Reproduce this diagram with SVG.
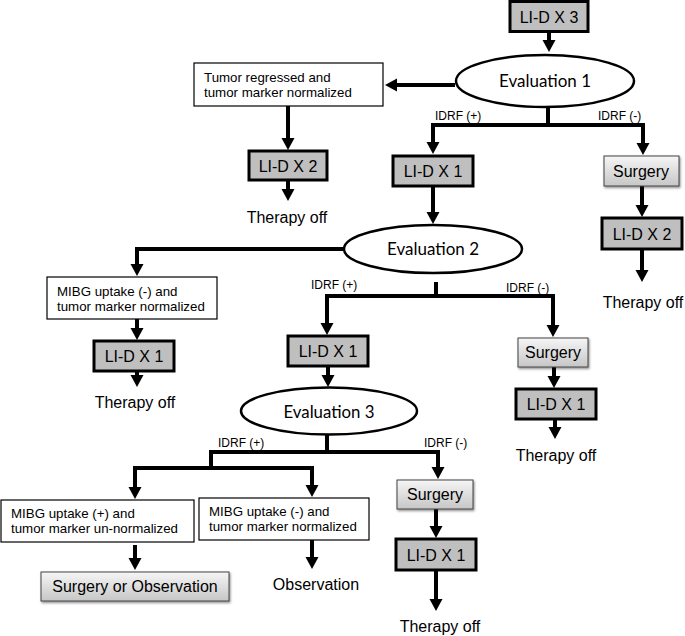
<svg xmlns="http://www.w3.org/2000/svg" width="685" height="636" viewBox="0 0 685 636">
<style>
.lid{fill:#bfbfbf;stroke:#000;stroke-width:3}
.box{fill:#fff;stroke:#000;stroke-width:1.2}
.sur{fill:url(#g);stroke:#444;stroke-width:1;filter:url(#sh)}
.ev{fill:#fff;stroke:#000;stroke-width:2.5}
.t16{font-family:"Liberation Sans",Arial,sans-serif;font-size:16px;fill:#000;text-anchor:middle}
.t13{font-family:"Liberation Sans",Arial,sans-serif;font-size:13.3px;fill:#000}
.t12{font-family:"Liberation Sans",Arial,sans-serif;font-size:12px;fill:#000}
.tev{font-family:Lato,"Open Sans",sans-serif;font-size:17px;fill:#000;text-anchor:middle}
.con path{fill:none;stroke:#000;stroke-width:4;stroke-linejoin:miter}
</style>
<defs>
<linearGradient id="g" x1="0" y1="0" x2="0" y2="1">
<stop offset="0" stop-color="#f6f6f6"/>
<stop offset="1" stop-color="#c6c6c6"/>
</linearGradient>
<filter id="sh" x="-10%" y="-10%" width="130%" height="140%">
<feDropShadow dx="1" dy="1.5" stdDeviation="1" flood-color="#000" flood-opacity="0.45"/>
</filter>
<marker id="ah" markerUnits="userSpaceOnUse" markerWidth="14" markerHeight="14" viewBox="0 -7 14 14" refX="1" refY="0" orient="auto">
<path d="M0,-6.5 L12,0 L0,6.5 z" fill="#000"/>
</marker>
</defs>

<g class="con" id="connectors">
<path d="M549,32 V41" marker-end="url(#ah)"/>
<path d="M455,85 H396" marker-end="url(#ah)"/>
<path d="M288,106 V139" marker-end="url(#ah)"/>
<path d="M288,180 V190" marker-end="url(#ah)"/>
<path d="M548,107 V125 H433 V143" marker-end="url(#ah)"/>
<path d="M548,125 H643 V144" marker-end="url(#ah)"/>
<path d="M433,186 V213" marker-end="url(#ah)"/>
<path d="M642,186 V206" marker-end="url(#ah)"/>
<path d="M642,249 V271" marker-end="url(#ah)"/>
<path d="M344,249 H137 V265" marker-end="url(#ah)"/>
<path d="M137,319 V329" marker-end="url(#ah)"/>
<path d="M137,371 V376" marker-end="url(#ah)"/>
<path d="M436,282 V296 H327 V324" marker-end="url(#ah)"/>
<path d="M436,296 H553 V326" marker-end="url(#ah)"/>
<path d="M328,366 V376" marker-end="url(#ah)"/>
<path d="M554,367 V377" marker-end="url(#ah)"/>
<path d="M555,419 V428" marker-end="url(#ah)"/>
<path d="M327,435 V452 H438 V468" marker-end="url(#ah)"/>
<path d="M327,452 H211 V468 H135 V488" marker-end="url(#ah)"/>
<path d="M211,468 H312 V486" marker-end="url(#ah)"/>
<path d="M135,545 V559" marker-end="url(#ah)"/>
<path d="M312,540 V558" marker-end="url(#ah)"/>
<path d="M436,509 V527" marker-end="url(#ah)"/>
<path d="M436,570 V600" marker-end="url(#ah)"/>
</g>

<g id="lid3"><rect class="lid" x="510" y="1.5" width="78" height="30"/><text class="t16" x="549" y="23">LI-D X 3</text></g>
<g id="eval1"><ellipse class="ev" cx="545" cy="81" rx="89" ry="26"/><text class="tev" x="545" y="87" textLength="92" lengthAdjust="spacingAndGlyphs">Evaluation 1</text></g>
<g id="tumor"><rect class="box" x="194" y="63" width="189" height="43"/><text class="t13" x="204" y="82">Tumor regressed and</text><text class="t13" x="204" y="97">tumor marker normalized</text></g>
<g id="lid2a"><rect class="lid" x="249" y="151" width="78" height="29"/><text class="t16" x="288" y="172">LI-D X 2</text></g>
<g id="off1"><text class="t16" x="287" y="223">Therapy off</text></g>
<g id="idrf1p"><text class="t12" x="435" y="120">IDRF (+)</text></g>
<g id="idrf1m"><text class="t12" x="598" y="120">IDRF (-)</text></g>
<g id="lid1a"><rect class="lid" x="393" y="156" width="80" height="30"/><text class="t16" x="433" y="177">LI-D X 1</text></g>
<g id="surg1"><rect class="sur" x="604" y="156" width="75" height="30"/><text class="t16" x="641" y="177">Surgery</text></g>
<g id="lid2b"><rect class="lid" x="602" y="218" width="80" height="31"/><text class="t16" x="642" y="240">LI-D X 2</text></g>
<g id="off2"><text class="t16" x="643" y="308">Therapy off</text></g>

<g id="eval2"><ellipse class="ev" cx="433" cy="249" rx="89" ry="24"/><text class="tev" x="433" y="255" textLength="92" lengthAdjust="spacingAndGlyphs">Evaluation 2</text></g>
<g id="mibg1"><rect class="box" x="47" y="277" width="170" height="42"/><text class="t13" x="57" y="296">MIBG uptake (-) and</text><text class="t13" x="57" y="311">tumor marker normalized</text></g>
<g id="lid1b"><rect class="lid" x="94" y="341" width="80" height="30"/><text class="t16" x="134" y="362">LI-D X 1</text></g>
<g id="off3"><text class="t16" x="135" y="408">Therapy off</text></g>
<g id="idrf2p"><text class="t12" x="311" y="289">IDRF (+)</text></g>
<g id="idrf2m"><text class="t12" x="506" y="292">IDRF (-)</text></g>
<g id="lid1c"><rect class="lid" x="288" y="336" width="80" height="30"/><text class="t16" x="328" y="357">LI-D X 1</text></g>
<g id="surg2"><rect class="sur" x="518" y="338" width="70" height="29"/><text class="t16" x="553" y="358">Surgery</text></g>
<g id="lid1d"><rect class="lid" x="516" y="389" width="80" height="30"/><text class="t16" x="556" y="410">LI-D X 1</text></g>
<g id="off4"><text class="t16" x="556" y="461">Therapy off</text></g>

<g id="eval3"><ellipse class="ev" cx="329" cy="411" rx="88" ry="23.5"/><text class="tev" x="329" y="418" textLength="91" lengthAdjust="spacingAndGlyphs">Evaluation 3</text></g>
<g id="idrf3p"><text class="t12" x="218" y="447">IDRF (+)</text></g>
<g id="idrf3m"><text class="t12" x="424" y="447">IDRF (-)</text></g>
<g id="mibg2"><rect class="box" x="1" y="500" width="193" height="42"/><text class="t13" x="11" y="518">MIBG uptake (+) and</text><text class="t13" x="11" y="533">tumor marker un-normalized</text></g>
<g id="mibg3"><rect class="box" x="199" y="498" width="170" height="42"/><text class="t13" x="209" y="516">MIBG uptake (-) and</text><text class="t13" x="209" y="531">tumor marker normalized</text></g>
<g id="surgobs"><rect class="sur" x="41" y="572" width="188" height="29"/><text class="t16" x="135" y="592">Surgery or Observation</text></g>
<g id="obs"><text class="t16" x="316" y="590">Observation</text></g>
<g id="surg3"><rect class="sur" x="397" y="480" width="76" height="29"/><text class="t16" x="435" y="500">Surgery</text></g>
<g id="lid1e"><rect class="lid" x="396" y="539" width="80" height="31"/><text class="t16" x="436" y="561">LI-D X 1</text></g>
<g id="off5"><text class="t16" x="440" y="632">Therapy off</text></g>
</svg>
